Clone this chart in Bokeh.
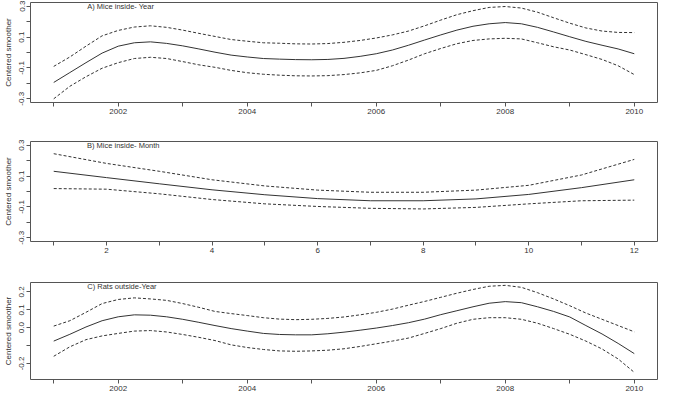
from bokeh.plotting import figure
from bokeh.layouts import column
from bokeh.models import Range1d, FixedTicker, Label
from bokeh.embed import file_html
from bokeh.resources import INLINE

# ---------------- data ----------------
years = [2001.0, 2001.25, 2001.5, 2001.75, 2002.0, 2002.25, 2002.5, 2002.75,
         2003.0, 2003.25, 2003.5, 2003.75, 2004.0, 2004.25, 2004.5, 2004.75,
         2005.0, 2005.25, 2005.5, 2005.75, 2006.0, 2006.25, 2006.5, 2006.75,
         2007.0, 2007.25, 2007.5, 2007.75, 2008.0, 2008.25, 2008.5, 2008.75,
         2009.0, 2009.25, 2009.5, 2009.75, 2010.0]

mice_year_fit = [-0.194, -0.13, -0.066, -0.004, 0.041, 0.063, 0.069, 0.059,
                 0.043, 0.023, 0.002, -0.017, -0.029, -0.039, -0.043, -0.046,
                 -0.047, -0.045, -0.038, -0.025, -0.008, 0.016, 0.047, 0.081,
                 0.114, 0.145, 0.17, 0.186, 0.194, 0.186, 0.163, 0.133,
                 0.102, 0.072, 0.047, 0.023, -0.008]
mice_year_up = [-0.09, -0.029, 0.041, 0.108, 0.143, 0.165, 0.173, 0.163,
                0.145, 0.124, 0.104, 0.084, 0.073, 0.063, 0.06, 0.056,
                0.055, 0.058, 0.066, 0.078, 0.094, 0.114, 0.139, 0.173,
                0.21, 0.245, 0.271, 0.292, 0.298, 0.288, 0.261, 0.225,
                0.19, 0.159, 0.139, 0.13, 0.129]
mice_year_lo = [-0.3, -0.219, -0.157, -0.102, -0.066, -0.039, -0.031, -0.039,
                -0.059, -0.08, -0.096, -0.116, -0.131, -0.141, -0.147, -0.151,
                -0.152, -0.15, -0.143, -0.132, -0.116, -0.086, -0.049, -0.008,
                0.026, 0.057, 0.078, 0.088, 0.092, 0.088, 0.063, 0.037,
                0.016, -0.014, -0.045, -0.086, -0.143]

months = [1, 2, 3, 4, 5, 6, 7, 8, 9, 10, 11, 12]
mice_month_fit = [0.131, 0.09, 0.05, 0.011, -0.021, -0.046, -0.06, -0.06, -0.048, -0.019, 0.025, 0.076]
mice_month_up = [0.245, 0.182, 0.131, 0.076, 0.036, 0.009, -0.005, -0.005, 0.009, 0.04, 0.107, 0.208]
mice_month_lo = [0.019, 0.015, -0.015, -0.052, -0.08, -0.097, -0.109, -0.113, -0.103, -0.08, -0.06, -0.056]

rats_year_fit = [-0.075, -0.037, 0.004, 0.039, 0.061, 0.072, 0.07, 0.061,
                 0.047, 0.03, 0.012, -0.005, -0.019, -0.032, -0.038, -0.04,
                 -0.04, -0.034, -0.025, -0.014, -0.002, 0.012, 0.028, 0.048,
                 0.073, 0.095, 0.117, 0.137, 0.146, 0.14, 0.117, 0.091,
                 0.06, 0.012, -0.035, -0.088, -0.145]
rats_year_up = [0.009, 0.039, 0.086, 0.135, 0.158, 0.167, 0.161, 0.153,
                0.135, 0.114, 0.091, 0.079, 0.068, 0.056, 0.048, 0.045,
                0.047, 0.052, 0.06, 0.072, 0.086, 0.104, 0.126, 0.147,
                0.17, 0.193, 0.214, 0.232, 0.237, 0.226, 0.196, 0.161,
                0.123, 0.082, 0.047, 0.012, -0.023]
rats_year_lo = [-0.16, -0.107, -0.067, -0.046, -0.032, -0.019, -0.016, -0.024,
                -0.038, -0.054, -0.072, -0.096, -0.111, -0.122, -0.13, -0.132,
                -0.13, -0.126, -0.118, -0.105, -0.09, -0.075, -0.058, -0.032,
                -0.005, 0.025, 0.047, 0.056, 0.056, 0.047, 0.025, -0.005,
                -0.037, -0.075, -0.119, -0.175, -0.25]

year_ticks = [2001, 2002, 2003, 2004, 2005, 2006, 2007, 2008, 2009, 2010]
year_labels = ["", "2002", "", "2004", "", "2006", "", "2008", "", "2010"]
month_ticks = [1, 2, 3, 4, 5, 6, 7, 8, 9, 10, 11, 12]
month_labels = ["", "2", "", "4", "", "6", "", "8", "", "10", "", "12"]
ab_yticks = [-0.3, -0.2, -0.1, 0.0, 0.1, 0.2, 0.3]
ab_ylabels = ["-0.3", "", "-0.1", "", "0.1", "", "0.3"]
c_yticks = [-0.2, -0.1, 0.0, 0.1, 0.2]
c_ylabels = ["-0.2", "", "0.0", "0.1", "0.2"]

FONT = "Liberation Sans"
INK = "#333333"


def panel(height, top, bottom, xr, yr, xt, xl, yt, yl, x, fit, up, lo, title, tx, ty):
    p = figure(width=659, height=height, output_backend="svg", toolbar_location=None,
               x_range=Range1d(*xr), y_range=Range1d(*yr))
    p.min_border_left = 28
    p.min_border_right = 2
    p.min_border_top = top
    p.min_border_bottom = bottom
    p.xgrid.visible = False
    p.ygrid.visible = False
    p.outline_line_color = "#555555"
    p.outline_line_width = 1
    p.background_fill_color = "white"
    p.border_fill_color = "white"

    for ax, ticks, labels in ((p.xaxis[0], xt, xl), (p.yaxis[0], yt, yl)):
        ax.ticker = FixedTicker(ticks=ticks)
        ax.major_label_overrides = {t: l for t, l in zip(ticks, labels)}
        ax.axis_line_color = None
        ax.major_tick_out = 4
        ax.major_tick_in = 0
        ax.major_tick_line_color = "#555555"
        ax.minor_tick_line_color = None
        ax.major_label_text_font = FONT
        ax.major_label_text_font_size = "8px"
        ax.major_label_text_color = INK
        ax.major_label_standoff = 2
    p.yaxis[0].major_label_orientation = "vertical"
    p.yaxis[0].axis_label = "Centered smoother"
    p.yaxis[0].axis_label_text_font = FONT
    p.yaxis[0].axis_label_text_font_size = "8px"
    p.yaxis[0].axis_label_text_font_style = "normal"
    p.yaxis[0].axis_label_text_color = INK
    p.yaxis[0].axis_label_standoff = 4

    p.line(x, fit, line_color=INK, line_width=1)
    p.line(x, up, line_color=INK, line_width=1, line_dash="3 2")
    p.line(x, lo, line_color=INK, line_width=1, line_dash="3 2")

    p.add_layout(Label(x=tx, y=ty, text=title, text_font=FONT, text_font_size="7.5px",
                       text_color=INK, text_baseline="middle", text_align="left"))
    return p


pA = panel(130, 2, 28, (2000.64, 2010.36), (-0.324, 0.324), year_ticks, year_labels,
           ab_yticks, ab_ylabels, years, mice_year_fit, mice_year_up, mice_year_lo,
           "A) Mice inside- Year", 2001.52, 0.3)
pB = panel(131, 11, 20, (0.56, 12.44), (-0.324, 0.324), month_ticks, month_labels,
           ab_yticks, ab_ylabels, months, mice_month_fit, mice_month_up, mice_month_lo,
           "B) Mice inside- Month", 1.63, 0.3)
pC = panel(134, 21, 16, (2000.64, 2010.36), (-0.29, 0.253), year_ticks, year_labels,
           c_yticks, c_ylabels, years, rats_year_fit, rats_year_up, rats_year_lo,
           "C) Rats outside-Year", 2001.52, 0.233)

layout = column(pA, pB, pC, spacing=0)
open("out.html", "w").write(file_html(layout, INLINE))
